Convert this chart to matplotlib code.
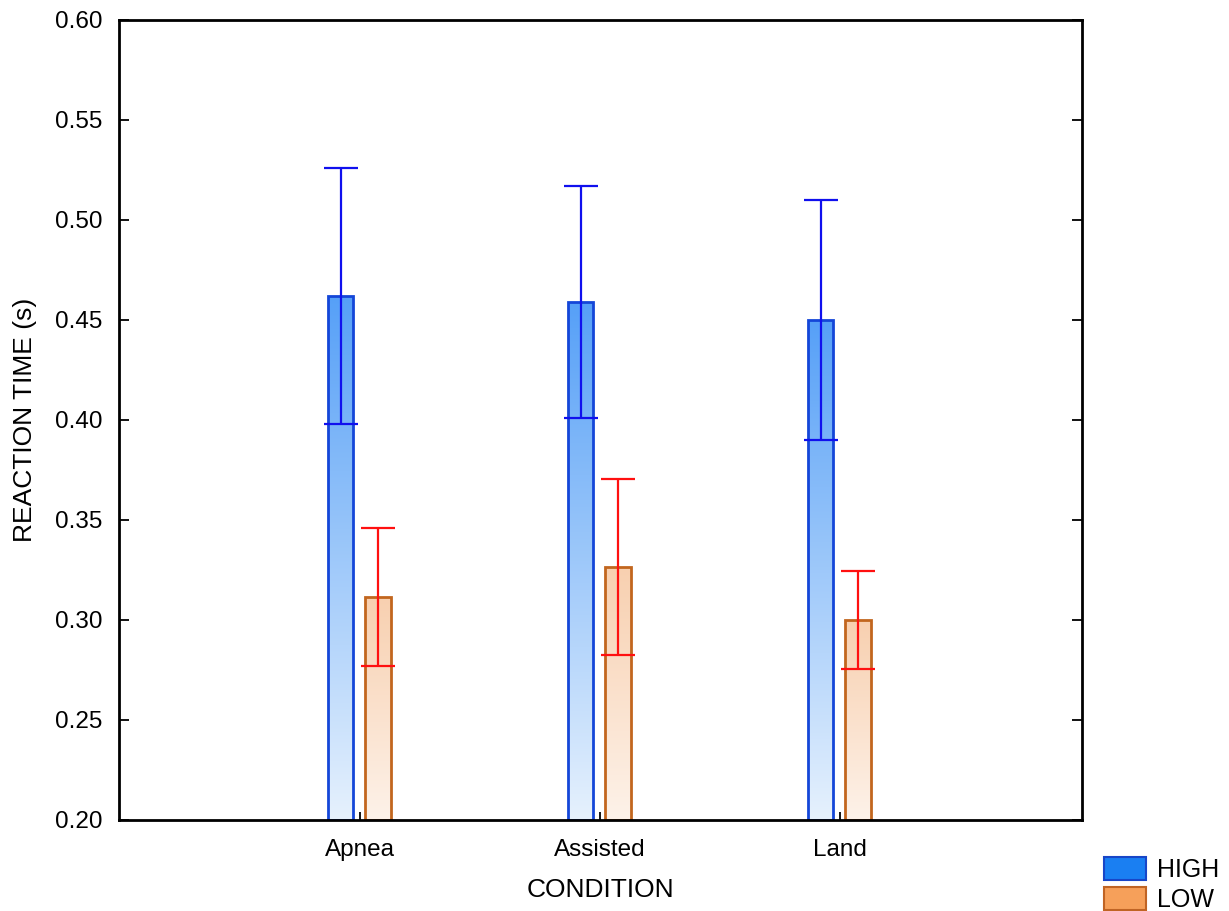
import numpy as np
import matplotlib
matplotlib.use("Agg")
import matplotlib.pyplot as plt
from matplotlib.patches import Patch
from matplotlib.colors import LinearSegmentedColormap

categories = ["Apnea", "Assisted", "Land"]
high_mean = [0.462, 0.459, 0.450]
high_err = [0.064, 0.058, 0.060]
low_mean = [0.3115, 0.3265, 0.300]
low_err = [0.0345, 0.044, 0.0245]
series_names = ["HIGH", "LOW"]
yticks = [0.20, 0.25, 0.30, 0.35, 0.40, 0.45, 0.50, 0.55, 0.60]

plt.rcParams['font.family'] = ['Liberation Sans', 'DejaVu Sans']

fig = plt.figure(figsize=(12.29, 9.11), dpi=100)
ax = fig.add_axes([119/1229, 91/911, (1082-119)/1229, 800/911])

ymin, ymax = 0.2, 0.6
x = np.arange(len(categories))
w = 0.105
off_h, off_l = -0.08, 0.075

cm_high = LinearSegmentedColormap.from_list("h", ["#e6f1fd", "#56a0f7"])
cm_low = LinearSegmentedColormap.from_list("l", ["#fdf2e9", "#f8d0b0"])
grad = np.linspace(0, 1, 256).reshape(-1, 1)

def draw(xc, means, errs, cmap, edge, ecol):
    for xi, m, e in zip(xc, means, errs):
        ax.imshow(grad, cmap=cmap, origin='lower', aspect='auto',
                  extent=[xi - w/2, xi + w/2, ymin, m], zorder=1,
                  interpolation='bicubic')
    ax.bar(xc, np.array(means) - ymin, bottom=ymin, width=w, facecolor='none',
           edgecolor=edge, linewidth=2, zorder=2)
    ax.errorbar(xc, means, yerr=errs, fmt='none', ecolor=ecol, elinewidth=1.6,
                capsize=12.5, capthick=1.6, zorder=3)

draw(x + off_h, high_mean, high_err, cm_high, "#1446d8", "#1010ee")
draw(x + off_l, low_mean, low_err, cm_low, "#c2661e", "#ff1010")

ax.set_xlim(-1.004, 3.008)
ax.set_ylim(ymin, ymax)
ax.set_xticks(x)
ax.set_xticklabels(categories)
ax.set_yticks(yticks)
ax.set_yticklabels([f"{v:.2f}" for v in yticks])
ax.tick_params(axis='both', direction='in', labelsize=17.5, width=1.3, color='black')
ax.tick_params(axis='y', length=7, right=True, pad=12)
ax.tick_params(axis='x', length=6, pad=14)
for s in ax.spines.values():
    s.set_linewidth(2)
ax.set_ylabel("REACTION TIME (s)", fontsize=19, labelpad=12.5)
ax.set_xlabel("CONDITION", fontsize=19, labelpad=12)

handles = [Patch(facecolor="#1a7ff2", edgecolor="#1846c8", linewidth=1.5),
           Patch(facecolor="#f6a05a", edgecolor="#c06424", linewidth=1.5)]
fig.legend(handles, series_names, loc='lower right', bbox_to_anchor=(1.0, -0.012),
           frameon=False, fontsize=18, handlelength=1.65, handleheight=1.05,
           labelspacing=0.2, handletextpad=0.45, borderaxespad=0.0)

fig.savefig("out.png", dpi=100)
